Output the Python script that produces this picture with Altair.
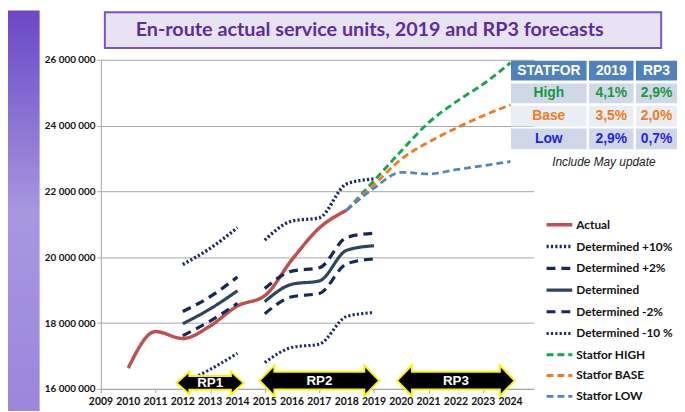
import altair as alt
import pandas as pd

# ---------------- data ----------------
SERIES = ["Actual", "Determined +10%", "Determined +2%", "Determined",
          "Determined -2%", "Determined -10 %", "Statfor HIGH", "Statfor BASE", "Statfor LOW"]

actual_years = [2010, 2011, 2012, 2013, 2014, 2015, 2016, 2017, 2018]
actual = [16630000, 17740000, 17530000, 17910000, 18520000, 18830000, 19930000, 20890000, 21430000]

rp1_years = [2012, 2013, 2014]
rp2_years = [2015, 2016, 2017, 2018, 2019]
det_p10_rp1 = [19780000, 20270000, 20900000]
det_p2_rp1 = [18350000, 18800000, 19400000]
det_rp1 = [17980000, 18430000, 18980000]
det_m2_rp1 = [17620000, 18060000, 18600000]
det_m10_rp1 = [16180000, 16590000, 17080000]
det_p10_rp2 = [20520000, 21100000, 21200000, 22230000, 22380000]
det_p2_rp2 = [19050000, 19580000, 19680000, 20600000, 20730000]
det_rp2 = [18650000, 19180000, 19280000, 20210000, 20350000]
det_m2_rp2 = [18280000, 18800000, 18900000, 19800000, 19950000]
det_m10_rp2 = [16800000, 17260000, 17360000, 18200000, 18320000]

fc_years = [2018, 2019, 2020, 2021, 2022, 2023, 2024]
fc_high = [21430000, 22320000, 23230000, 24090000, 24720000, 25260000, 25910000]
fc_base = [21430000, 22200000, 22980000, 23500000, 23920000, 24300000, 24630000]
fc_low = [21430000, 22100000, 22580000, 22530000, 22660000, 22780000, 22910000]

x_ticks = list(range(2009, 2025))
y_ticks = [16000000, 18000000, 20000000, 22000000, 24000000, 26000000]

periods = ["RP1", "RP2", "RP3"]
period_start = [2012, 2015, 2020]
period_end = [2014, 2019, 2024]
period_level = [16180000, 16250000, 16250000]

table_header = ["STATFOR", "2019", "RP3"]
table_rows = ["High", "Base", "Low"]
table_2019 = ["4,1%", "3,5%", "2,9%"]
table_rp3 = ["2,9%", "2,0%", "0,7%"]

title_text = "En-route actual service units, 2019 and RP3 forecasts"
note_text = "Include May update"

# ---------------- styles ----------------
COLORS = ["#C0504D", "#1B2A6B", "#13295E", "#2B4562", "#13295E", "#1B2A6B",
          "#12A84B", "#F07A22", "#4F86C6"]
DASHES = [[1, 0], [2.2, 2.2], [9, 6], [1, 0], [9, 6], [2.2, 2.2], [7, 4], [7, 4], [7, 4]]
WIDTHS = [3.5, 2.8, 3, 2.5, 3, 2.8, 3.5, 3.5, 3.5]
ROW_TEXT = ["#1A9641", "#F47A20", "#1F1FF0"]
ROW_FILL = ["#D0D8E8", "#E9EDF4", "#D0D8E8"]

rows = []


def add(name, years, vals, seg):
    for yr, v in zip(years, vals):
        rows.append({"series": name, "seg": seg, "year": yr, "value": v})


add("Actual", actual_years, actual, "a")
add("Determined +10%", rp1_years, det_p10_rp1, "rp1")
add("Determined +10%", rp2_years, det_p10_rp2, "rp2")
add("Determined +2%", rp1_years, det_p2_rp1, "rp1")
add("Determined +2%", rp2_years, det_p2_rp2, "rp2")
add("Determined", rp1_years, det_rp1, "rp1")
add("Determined", rp2_years, det_rp2, "rp2")
add("Determined -2%", rp1_years, det_m2_rp1, "rp1")
add("Determined -2%", rp2_years, det_m2_rp2, "rp2")
add("Determined -10 %", rp1_years, det_m10_rp1, "rp1")
add("Determined -10 %", rp2_years, det_m10_rp2, "rp2")
add("Statfor HIGH", fc_years, fc_high, "f")
add("Statfor BASE", fc_years, fc_base, "f")
add("Statfor LOW", fc_years, fc_low, "f")
df = pd.DataFrame(rows)

W, H = 438, 333

leg = alt.Legend(title=None, orient="none", legendX=449, legendY=152,
                 symbolType="stroke", symbolSize=676, symbolStrokeWidth=3,
                 labelFont="Lato", labelFontWeight="bold", labelFontSize=12,
                 labelColor="#111111", rowPadding=-6.6, labelOffset=2, padding=0,
                 labelLimit=200)

xscale = alt.Scale(domain=[2009, 2024.85], nice=False, zero=False)
yscale = alt.Scale(domain=[16000000, 26000000], nice=False, zero=False)

lines = alt.Chart(df).mark_line(interpolate="monotone", strokeCap="butt").encode(
    x=alt.X("year:Q", scale=xscale, title=None,
            axis=alt.Axis(values=x_ticks, grid=False, labels=False,
                          tickSize=4, tickColor="#A6A6A6", domainColor="#A6A6A6")),
    y=alt.Y("value:Q", scale=yscale, title=None,
            axis=alt.Axis(values=y_ticks, grid=True, gridColor="#A6A6A6", gridWidth=1,
                          labelExpr="replace(format(datum.value, ','), regexp(',', 'g'), ' ')",
                          labelFont="Lato", labelFontWeight="bold", labelFontSize=10,
                          labelColor="#111", tickSize=4, tickColor="#A6A6A6",
                          domainColor="#A6A6A6", labelPadding=2)),
    color=alt.Color("series:N", scale=alt.Scale(domain=SERIES, range=COLORS), legend=leg),
    strokeDash=alt.StrokeDash("series:N", scale=alt.Scale(domain=SERIES, range=DASHES), legend=leg),
    strokeWidth=alt.StrokeWidth("series:N", scale=alt.Scale(domain=SERIES, range=WIDTHS), legend=None),
    detail="seg:N",
)

# x tick labels (drawn as text so every year shows)
xlabels = alt.Chart(pd.DataFrame({"yr": x_ticks})).mark_text(
    font="Lato", fontWeight="bold", fontSize=10.5, color="#111111", baseline="middle",
    align="center").encode(x=alt.X("yr:Q", title=None), y=alt.value(H + 13),
                           text=alt.Text("yr:Q", format="d"))

one = pd.DataFrame({"k": [0]})

# left decorative strip
strip = alt.Chart(one).mark_rect(
    color=alt.Gradient(gradient="linear", x1=0, x2=0, y1=0, y2=1,
                       stops=[alt.GradientStop(color="#6A48C6", offset=0),
                              alt.GradientStop(color="#A797E0", offset=0.5),
                              alt.GradientStop(color="#9A86DC", offset=1)])
).encode(x=alt.value(-94), x2=alt.value(-62), y=alt.value(-50), y2=alt.value(360))

# title box
title_box = alt.Chart(one).mark_rect(fill="#E8E3F4", stroke="#7A52CE", strokeWidth=2).encode(
    x=alt.value(4), x2=alt.value(567), y=alt.value(-48), y2=alt.value(-12))
title = alt.Chart(one).mark_text(text=title_text, font="Lato", fontWeight="bold", fontSize=20,
                                 color="#5B2D9F", align="center", baseline="middle").encode(
    x=alt.value(272), y=alt.value(-30))

# table
col_x = [(415, 491.5), (494, 539), (541.5, 583)]
row_y = [(1, 21), (24, 44), (46.5, 67.5), (69.5, 90.5)]
cells = []
for j, h in enumerate(table_header):
    cells.append({"x": col_x[j][0], "x2": col_x[j][1], "y": row_y[0][0], "y2": row_y[0][1],
                  "fill": "#4F81BD", "text": h, "tc": "#FFFFFF"})
for i, name in enumerate(table_rows):
    vals = [name, table_2019[i], table_rp3[i]]
    for j, v in enumerate(vals):
        cells.append({"x": col_x[j][0], "x2": col_x[j][1], "y": row_y[i + 1][0],
                      "y2": row_y[i + 1][1], "fill": ROW_FILL[i], "text": v, "tc": ROW_TEXT[i]})
cdf = pd.DataFrame(cells)
cdf["cx"] = (cdf["x"] + cdf["x2"]) / 2
cdf["cy"] = (cdf["y"] + cdf["y2"]) / 2

table_rects = alt.Chart(cdf).mark_rect().encode(
    x=alt.X("x:Q", scale=None, axis=None), x2="x2:Q",
    y=alt.Y("y:Q", scale=None, axis=None), y2="y2:Q",
    fill=alt.Fill("fill:N", scale=None))
table_text = alt.Chart(cdf).mark_text(font="Liberation Sans", fontWeight="bold", fontSize=14,
                                      baseline="middle", align="center").encode(
    x=alt.X("cx:Q", scale=None, axis=None), y=alt.Y("cy:Q", scale=None, axis=None),
    text="text:N", color=alt.Color("tc:N", scale=None))
note = alt.Chart(one).mark_text(text=note_text, font="Liberation Sans", fontStyle="italic",
                                fontSize=12, color="#222222", align="center",
                                baseline="middle").encode(x=alt.value(509), y=alt.value(103))

# arrows


def arrow_path(w, h, body, head):
    s = w / 2.0
    a = 1 - head / s
    hh = h / 2.0 / s
    bb = body / 2.0 / s
    return (f"M-1,0L{-a:.3f},{-hh:.3f}L{-a:.3f},{-bb:.3f}L{a:.3f},{-bb:.3f}L{a:.3f},{-hh:.3f}"
            f"L1,0L{a:.3f},{hh:.3f}L{a:.3f},{bb:.3f}L{-a:.3f},{bb:.3f}L{-a:.3f},{hh:.3f}Z")


adf = pd.DataFrame({"period": periods, "start": period_start, "end": period_end, "lvl": period_level})
arrow_geo = {"RP1": (68, 23, 14, 13), "RP2": (121, 31, 18, 15), "RP3": (119, 31, 18, 15)}
arrow_layers = []
for p in periods:
    w, h, b, hd = arrow_geo[p]
    base = alt.Chart(adf).transform_filter(alt.datum.period == p).transform_calculate(
        mid="(datum.start + datum.end) / 2")
    arrow_layers.append(base.mark_point(shape=arrow_path(w, h, b, hd), size=w * w, filled=True,
                                        color="black", stroke="#FFF200", strokeWidth=2,
                                        opacity=1).encode(
        x=alt.X("mid:Q", title=None), y=alt.Y("lvl:Q", title=None)))
    arrow_layers.append(base.mark_text(font="Liberation Sans", fontWeight="bold", fontSize=13.5,
                                       color="white", baseline="middle").encode(
        x=alt.X("mid:Q", title=None), y=alt.Y("lvl:Q", title=None), text="period:N"))

chart = alt.layer(lines, xlabels, *arrow_layers, strip, title_box, title, table_rects, table_text,
                  note).properties(
    width=W, height=H,
    autosize=alt.AutoSizeParams(type="none"),
    padding={"left": 94, "top": 50, "right": 145, "bottom": 20},
    background="white",
).configure_view(stroke=None)

chart.save("out.html", embed_options={"renderer": "svg", "actions": False})
